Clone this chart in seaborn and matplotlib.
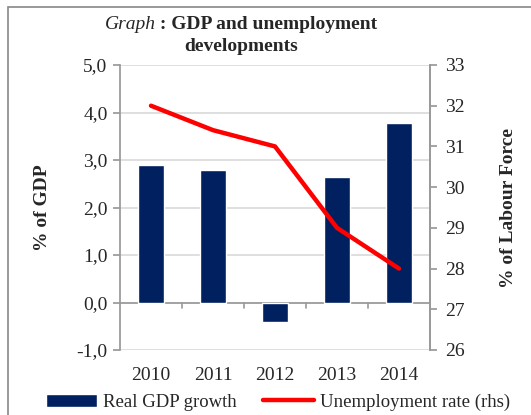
import matplotlib
matplotlib.use("Agg")
import matplotlib.pyplot as plt
import seaborn as sns
import pandas as pd
import numpy as np
from matplotlib.patches import Rectangle, Patch
from matplotlib.lines import Line2D

years = ["2010", "2011", "2012", "2013", "2014"]
gdp_growth = [2.9, 2.78, -0.4, 2.65, 3.78]
unemployment = [32.0, 31.4, 31.0, 29.0, 28.0]

navy = "#002060"
red = "#FF0000"
grid_col = "#D9D9D9"
axis_col = "#999999"

sns.set_theme(style="white")
plt.rcParams["font.family"] = ["Liberation Serif", "DejaVu Serif"]

df = pd.DataFrame({"year": years, "gdp": gdp_growth, "unemp": unemployment})

fig = plt.figure(figsize=(5.31, 4.15), dpi=100)
ax = fig.add_axes([120 / 531, 1 - 350 / 415, 310 / 531, 285 / 415])

sns.barplot(data=df, x="year", y="gdp", color=navy, width=0.41, saturation=1, ax=ax, zorder=3)
ax.set_ylim(-1, 5)
ax.set_xlim(-0.5, 4.5)
ax.set_yticks(np.arange(-1, 5.01, 1))
ax.set_yticklabels([f"{v:.1f}".replace(".", ",") for v in np.arange(-1, 5.01, 1)], fontsize=14)
ax.yaxis.grid(True, color=grid_col, linewidth=1.2, zorder=0)
ax.set_axisbelow(True)
for s in ["top", "bottom"]:
    ax.spines[s].set_visible(False)
for s in ["left", "right"]:
    ax.spines[s].set_color(axis_col)
ax.axhline(0, color=axis_col, linewidth=1.2, zorder=2)
ax.set_xticks(range(len(years)))
ax.set_xticklabels(years, fontsize=14)
ax.tick_params(axis="x", length=0, pad=12)
ax.tick_params(axis="y", length=5, color=axis_col, left=True, pad=4)
# category boundary ticks on the zero line
for b in np.arange(0.5, 4, 1):
    ax.plot([b, b], [0, -0.12], color=axis_col, linewidth=1.2, clip_on=False, zorder=2)
ax.set_xlabel("")
ax.set_ylabel("% of GDP", fontsize=14, fontweight="bold", labelpad=18)

ax2 = ax.twinx()
sns.lineplot(data=df, x="year", y="unemp", color=red, linewidth=3.2, ax=ax2, sort=False)
ax2.set_ylim(26, 33)
ax2.set_yticks(range(26, 34))
ax2.set_yticklabels([str(v) for v in range(26, 34)], fontsize=14)
ax2.tick_params(axis="y", length=5, color=axis_col, right=True, pad=6)
for s in ["top", "bottom", "left"]:
    ax2.spines[s].set_visible(False)
ax2.spines["right"].set_color(axis_col)
ax2.set_ylabel("% of Labour Force", fontsize=14, fontweight="bold", labelpad=25)
ax2.set_xlabel("")

# title: italic "Graph" followed by bold text, centred as one line
cx = 241 / 531
t1 = fig.text(0, 0.94, "Graph", fontsize=14, fontstyle="italic", ha="left", va="center")
t2 = fig.text(0, 0.94, " : GDP and unemployment", fontsize=14, fontweight="bold",
              ha="left", va="center")
fig.canvas.draw()
r = fig.canvas.get_renderer()
w1 = t1.get_window_extent(r).width / fig.bbox.width
w2 = t2.get_window_extent(r).width / fig.bbox.width
x0 = cx - (w1 + w2) / 2
t1.set_x(x0)
t2.set_x(x0 + w1)
fig.text(cx, 0.887, "developments", fontsize=14, fontweight="bold", ha="center", va="center")

handles = [Patch(facecolor=navy, label="Real GDP growth"),
           Line2D([0], [0], color=red, linewidth=3.2, label="Unemployment rate (rhs)")]
fig.legend(handles=handles, loc="center", bbox_to_anchor=(0.524, 0.031), ncol=2,
           frameon=False, fontsize=13.5, handlelength=2.7, columnspacing=1.4,
           handletextpad=0.35, borderpad=0, borderaxespad=0)

fig.patches.append(Rectangle((8 / 531, -0.1), 1.2, 1 - 7 / 415 + 0.1, transform=fig.transFigure,
                             fill=False, edgecolor="#888888", linewidth=1.2))

fig.savefig("out.png", dpi=100)
